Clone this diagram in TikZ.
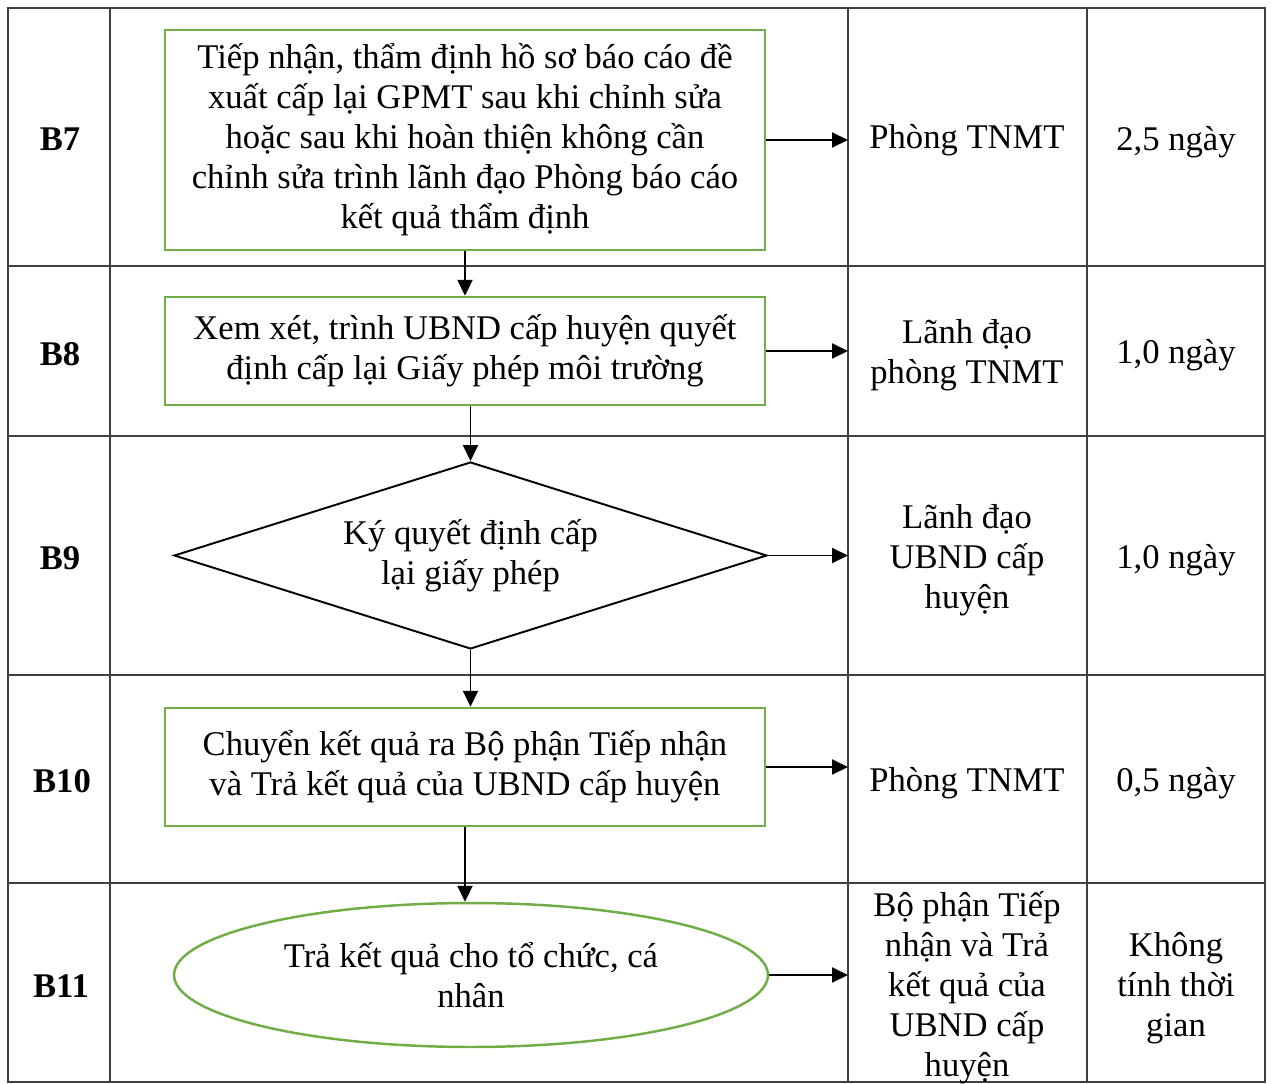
\documentclass[tikz,border=0pt]{standalone}
\usepackage{fontspec}
\setmainfont{Liberation Serif}
\usetikzlibrary{arrows.meta,shapes.geometric}
\definecolor{boxgreen}{RGB}{112,173,71}
\definecolor{gridgray}{RGB}{64,64,64}

\begin{document}
\begin{tikzpicture}[x=0.02cm,y=-0.02cm,
    every node/.style={font=\fontsize{19.7}{22.8}\selectfont,align=center,inner sep=0pt},
    lbl/.style={font=\fontsize{19.7}{22.8}\selectfont\bfseries},
    stepbox/.style={draw=boxgreen,line width=1.4pt,minimum width=12cm},
    arr/.style={line width=1.1pt,-{Triangle[length=0.32cm,width=0.3cm]}}]
        \useasboundingbox (0,0) rectangle (1271,1084);
        \coordinate (colA) at (110,0);
        \coordinate (colB) at (848,0);
        \coordinate (colC) at (1087,0);
        % table
        \draw[gridgray,line width=1.1pt] (8,8) rectangle (1265,1082);
        \draw[gridgray,line width=1.1pt] (110,8) -- (110,1082) (848,8) -- (848,1082) (1087,8) -- (1087,1082);
        \foreach \r in {266,436,675,883}
            \draw[gridgray,line width=1.1pt] (8,\r) -- (1265,\r);
        % steps
        \node[stepbox,minimum height=4.4cm] (s7) at (465,140) {Tiếp nhận, thẩm định hồ sơ báo cáo đề\\xuất cấp lại GPMT sau khi chỉnh sửa\\hoặc sau khi hoàn thiện không cần\\chỉnh sửa trình lãnh đạo Phòng báo cáo\\kết quả thẩm định};
        \node[stepbox,minimum height=2.16cm] (s8) at (465,351) {Xem xét, trình UBND cấp huyện quyết\\định cấp lại Giấy phép môi trường};
        \node[diamond,draw,line width=1.1pt,aspect=3.2,minimum width=11.86cm,minimum height=3.74cm] (s9) at (470.5,555.5) {Ký quyết định cấp\\lại giấy phép};
        \node[stepbox,minimum height=2.36cm] (s10) at (465,767) {Chuyển kết quả ra Bộ phận Tiếp nhận\\và Trả kết quả của UBND cấp huyện};
        \node[ellipse,draw=boxgreen,line width=1.4pt,minimum width=11.88cm,minimum height=2.88cm] (s11) at (471,975) {Trả kết quả cho tổ chức, cá\\nhân};
        \draw[arr] (s7.south) -- (s8.north);
        \draw[arr] (s9.north |- s8.south) -- (s9.north);
        \draw[arr] (s9.south) -- (s9.south |- s10.north);
        \draw[arr] (s10.south) -- (s10.south |- s11.north);
        \draw[arr] (s7.east) -- (s7.east -| colB);
        \draw[arr] (s8.east) -- (s8.east -| colB);
        \draw[arr] (s9.east) -- (s9.east -| colB);
        \draw[arr] (s10.east) -- (s10.east -| colB);
        \draw[arr] (s11.east) -- (s11.east -| colB);
        % step labels
        \node[lbl] (b7) at (60,139) {B7};
        \node[lbl] (b8) at (60,354) {B8};
        \node[lbl] (b9) at (60,558) {B9};
        \node[lbl] (b10) at (62,781) {B10};
        \node[lbl] (b11) at (61,986) {B11};
        % who
        \node (w7) at (967,140) {Phòng TNMT};
        \node (w8) at (967,355) {Lãnh đạo\\phòng TNMT};
        \node (w9) at (967,560) {Lãnh đạo\\UBND cấp\\huyện};
        \node (w10) at (967,783) {Phòng TNMT};
        \node (w11) at (967,988) {Bộ phận Tiếp\\nhận và Trả\\kết quả của\\UBND cấp\\huyện};
        % time
        \node (t7) at (1176,142) {2,5 ngày};
        \node (t8) at (1176,355) {1,0 ngày};
        \node (t9) at (1176,560) {1,0 ngày};
        \node (t10) at (1176,783) {0,5 ngày};
        \node (t11) at (1176,988) {Không\\tính thời\\gian};
\end{tikzpicture}
\end{document}
